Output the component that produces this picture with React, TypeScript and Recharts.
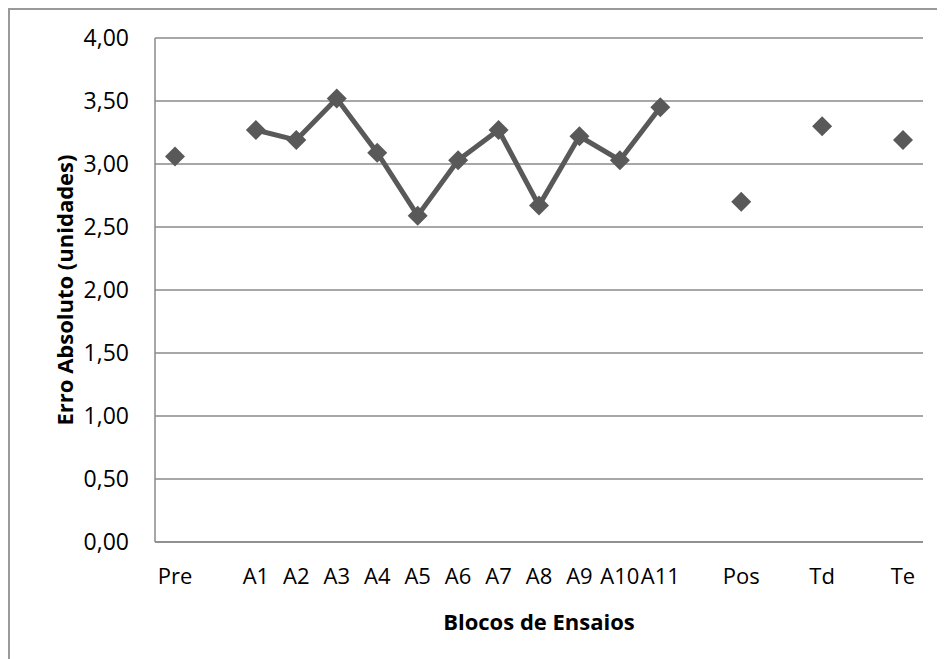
import React from "react";
import {
  LineChart,
  Line,
  XAxis,
  YAxis,
  CartesianGrid,
} from "recharts";

// blocks of trials; empty strings are the spacer slots between groups
const blocos = [
  "Pre", "", "A1", "A2", "A3", "A4", "A5", "A6", "A7", "A8", "A9", "A10", "A11",
  "", "Pos", "", "Td", "", "Te",
];
const erro: (number | null)[] = [
  3.06, null, 3.27, 3.19, 3.52, 3.09, 2.59, 3.03, 3.27, 2.67, 3.22, 3.03, 3.45,
  null, 2.7, null, 3.3, null, 3.19,
];
const yTicks = [0, 0.5, 1, 1.5, 2, 2.5, 3, 3.5, 4];

const data = blocos.map((b, i) => ({ bloco: b, erro: erro[i] }));

const fmt = (v: number) => v.toFixed(2).replace(".", ",");

const FONT = "'Open Sans', 'Noto Sans', sans-serif";
const GRID = "#8a8a8a";
const SERIES = "#595959";

function Diamond(props: any) {
  const { cx, cy, value, index } = props;
  if (value == null || cx == null || cy == null) return <g key={index} />;
  const r = 10;
  return (
    <polygon
      key={index}
      points={`${cx},${cy - r} ${cx + r},${cy} ${cx},${cy + r} ${cx - r},${cy}`}
      fill={SERIES}
    />
  );
}

export default function App() {
  return (
    <div
      style={{
        position: "relative",
        width: 937,
        height: 651,
        background: "#fff",
        fontFamily: FONT,
      }}
    >
      <div
        style={{
          position: "absolute",
          left: 0,
          top: 0,
          right: 0,
          bottom: 0,
          borderTop: "2px solid #9a9a9a",
          borderLeft: "2px solid #9a9a9a",
        }}
      />
      <LineChart
        width={937}
        height={651}
        data={data}
        margin={{ top: 30, right: 22, bottom: 0, left: 0 }}
      >
        <CartesianGrid vertical={false} stroke={GRID} strokeWidth={1.5} />
        <XAxis
          dataKey="bloco"
          interval={0}
          height={117}
          padding={{ left: 20, right: 20 }}
          tickLine={false}
          tickSize={0}
          tickMargin={26}
          axisLine={{ stroke: GRID, strokeWidth: 1.5 }}
          tick={{ fill: "#000", fontSize: 22, fontFamily: FONT }}
          label={{
            value: "Blocos de Ensaios",
            position: "insideBottom",
            offset: 29,
            style: { fontSize: 22, fontWeight: 700, fill: "#000", fontFamily: FONT },
          }}
        />
        <YAxis
          width={147}
          domain={[0, 4]}
          ticks={yTicks}
          tickFormatter={fmt}
          tickLine={false}
          tickSize={0}
          tickMargin={26}
          axisLine={{ stroke: GRID, strokeWidth: 1.5 }}
          tick={{ fill: "#000", fontSize: 23, fontFamily: FONT }}
          label={{
            value: "Erro Absoluto (unidades)",
            angle: -90,
            position: "insideLeft",
            offset: 57,
            style: {
              textAnchor: "middle",
              fontSize: 22,
              fontWeight: 700,
              fill: "#000",
              fontFamily: FONT,
            },
          }}
        />
        <Line
          type="linear"
          dataKey="erro"
          stroke={SERIES}
          strokeWidth={5}
          dot={Diamond}
          activeDot={false}
          connectNulls={false}
          isAnimationActive={false}
        />
      </LineChart>
    </div>
  );
}
